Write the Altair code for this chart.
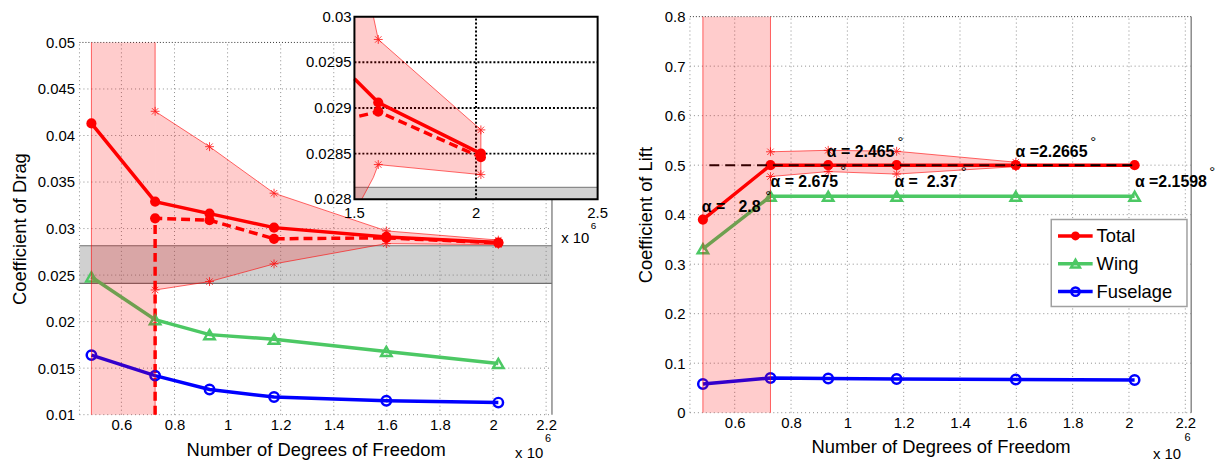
import altair as alt
import pandas as pd

FONT = "Liberation Sans"
RED = "#ff0000"
GREEN = "#4cc864"
BLUE = "#0000ff"
GRID = "#8c8c8c"
STAR = "M-1,0L1,0M0,-1L0,1M-0.72,-0.72L0.72,0.72M-0.72,0.72L0.72,-0.72"

# ---------------- shared x: number of degrees of freedom (x 10^6)
dof = [0.487, 0.727, 0.932, 1.175, 1.598, 2.020]
cut = [0.487, 0.727]          # shaded (unconverged) region

# ---------------- drag panel
drag_xlim = [0.442, 2.222]
drag_ylim = [0.01, 0.05]
drag_xticks = [0.6, 0.8, 1.0, 1.2, 1.4, 1.6, 1.8, 2.0, 2.2]
drag_yticks = [0.01, 0.015, 0.02, 0.025, 0.03, 0.035, 0.04, 0.045, 0.05]
drag_total = [0.0413, 0.0329, 0.0316, 0.0301, 0.0291, 0.0285]
drag_total_corr = [0.0311, 0.0309, 0.0289, 0.0290, 0.02846]   # dashed, at dof[1:]
drag_wing = [0.0248, 0.0202, 0.0186, 0.0181, 0.0168, 0.0155]
drag_fus = [0.0164, 0.0142, 0.0127, 0.0119, 0.0115, 0.0113]
drag_band_hi = [0.0426, 0.0388, 0.0338, 0.02975, 0.02876]   # at dof[1:]
drag_band_lo = [0.0234, 0.0243, 0.0262, 0.02838, 0.02827]
drag_gray = [0.0241, 0.02815]

# ---------------- inset (zoom of drag)
inset_xlim = [1.5, 2.5]
inset_ylim = [0.028, 0.030]
inset_xticks = [1.5, 2.0, 2.5]
inset_yticks = [0.028, 0.0285, 0.029, 0.0295, 0.030]
inset_total_x = [1.5, 1.598, 2.020]
inset_total_y = [0.02932, 0.02906, 0.02850]
inset_corr_x = [1.52, 1.598, 2.020]
inset_corr_y = [0.02891, 0.02896, 0.02846]
inset_band_x = [1.5, 1.53, 1.578, 1.598, 2.020]
inset_band_lo = [0.028, 0.028, 0.02824, 0.02838, 0.02827]
inset_band_hi = [0.030, 0.030, 0.030, 0.02975, 0.02876]
inset_gray_top = 0.02813

# ---------------- lift panel
lift_xlim = [0.441, 2.221]
lift_ylim = [0.0, 0.8]
lift_xticks = drag_xticks
lift_yticks = [0.0, 0.1, 0.2, 0.3, 0.4, 0.5, 0.6, 0.7, 0.8]
lift_total = [0.390, 0.500, 0.500, 0.500, 0.500, 0.500]
lift_wing = [0.331, 0.437, 0.437, 0.437, 0.437, 0.437]
lift_fus = [0.058, 0.070, 0.069, 0.068, 0.067, 0.066]
lift_band_x = [0.727, 0.932, 1.175, 1.598]
lift_band_hi = [0.527, 0.530, 0.528, 0.506]
lift_band_lo = [0.477, 0.487, 0.482, 0.497]
lift_target = 0.5
lift_target_x = [0.51, 2.02]
alpha_text = ["α =\u00a0\u00a0 2.8", "α = 2.675", "α = 2.465", "α =\u00a0 2.37", "α =2.2665", "α =2.1598"]
alpha_x = [0.483, 0.727, 0.927, 1.167, 1.597, 2.021]
alpha_y = [0.415, 0.465, 0.527, 0.465, 0.527, 0.465]
deg_x = [0.719, 0.985, 1.189, 1.413, 1.873, 2.296]
deg_y = [0.437, 0.489, 0.546, 0.487, 0.547, 0.487]

legend_names = ["Total", "Wing", "Fuselage"]
legend_y = [0.357, 0.301, 0.2446]
legend_box = [1.724, 2.206, 0.2145, 0.390]
legend_line = [1.748, 1.871]
legend_mark_x = 1.810
legend_text_x = 1.885

X_LABEL = "Number of Degrees of Freedom"

INSET_SCALES = []


def df(**cols):
    return pd.DataFrame(cols)


def _pos(cls, field, scale, axis):
    if any(scale is s for s in INSET_SCALES):
        return cls(f"{field}:Q", scale=scale, axis=None)
    if axis is not None:
        return cls(f"{field}:Q", scale=scale, axis=axis)
    return cls(f"{field}:Q", scale=scale)


def X(scale, axis=None, field="x"):
    return _pos(alt.X, field, scale, axis)


def Y(scale, axis=None, field="y"):
    return _pos(alt.Y, field, scale, axis)


def hrules(ys, x0, x1, XS, YS, color, width=1.0, dash=None, xaxis=None, yaxis=None):
    kw = dict(color=color, strokeWidth=width)
    if dash:
        kw["strokeDash"] = dash
    d = df(y=ys, x=[x0] * len(ys), x2=[x1] * len(ys))
    return alt.Chart(d).mark_rule(**kw).encode(x=X(XS, xaxis), x2="x2:Q", y=Y(YS, yaxis))


def vrules(xs, y0, y1, XS, YS, color, width=1.0, dash=None):
    kw = dict(color=color, strokeWidth=width)
    if dash:
        kw["strokeDash"] = dash
    d = df(x=xs, y=[y0] * len(xs), y2=[y1] * len(xs))
    return alt.Chart(d).mark_rule(**kw).encode(x=X(XS), y=Y(YS), y2="y2:Q")


def line(xs, ys, XS, YS, color, width=3.5, dash=None):
    kw = dict(color=color, strokeWidth=width)
    if dash:
        kw["strokeDash"] = dash
    d = df(x=xs, y=ys, i=list(range(len(xs))))
    return alt.Chart(d).mark_line(**kw).encode(x=X(XS), y=Y(YS), order="i:Q")


def pts(xs, ys, XS, YS, **mk):
    d = df(x=xs, y=ys)
    kw = dict(opacity=1)
    kw.update(mk)
    return alt.Chart(d).mark_point(**kw).encode(x=X(XS), y=Y(YS))


def rect(x0, x1, y0, y1, XS, YS, **mk):
    d = df(x=[x0], x2=[x1], y=[y0], y2=[y1])
    return alt.Chart(d).mark_rect(**mk).encode(x=X(XS), x2="x2:Q", y=Y(YS), y2="y2:Q")


def area(xs, lo, hi, XS, YS):
    d = df(x=xs, y=lo, y2=hi)
    return alt.Chart(d).mark_area(color=RED, opacity=0.2).encode(x=X(XS), y=Y(YS), y2="y2:Q")


def outline(segs, XS, YS):
    rows = []
    for s, seg in enumerate(segs):
        for i, (x, y) in enumerate(seg):
            rows.append({"x": x, "y": y, "s": s, "i": i})
    return alt.Chart(pd.DataFrame(rows)).mark_line(color=RED, strokeWidth=1, opacity=0.6).encode(
        x=X(XS), y=Y(YS), detail="s:N", order="i:Q")


def texts(xs, ys, labels, XS, YS, **mk):
    d = df(x=xs, y=ys, t=labels)
    base = dict(font=FONT, color="black", baseline="middle")
    base.update(mk)
    return alt.Chart(d).mark_text(**base).encode(x=X(XS), y=Y(YS), text="t:N")


def stars(xs, ys, XS, YS):
    return pts(xs, ys, XS, YS, shape=STAR, filled=False, size=80, strokeWidth=1, color=RED, opacity=0.75)


total_mk = dict(shape="circle", filled=True, size=105, color=RED)
wing_mk = dict(shape="triangle-up", filled=False, size=110, strokeWidth=2.5, color=GREEN)
fus_mk = dict(shape="circle", filled=False, size=90, strokeWidth=2.5, color=BLUE)

# =============== LEFT: drag ===============
W_D, H_D = 476, 401
XS_D = alt.Scale(domain=drag_xlim, nice=False, zero=False)
YS_D = alt.Scale(domain=drag_ylim, range=[401, 26], nice=False, zero=False)
AX_DX = alt.Axis(values=drag_xticks, format=".1~f", title=X_LABEL, grid=False, ticks=False,
                 domain=False, labelPadding=3, titlePadding=8)
AX_DY = alt.Axis(values=drag_yticks, format=".3~f", title="Coefficient of Drag", grid=False,
                 ticks=False, domain=False, labelPadding=5, titlePadding=8)

dash_x = [cut[1]] + dof[1:]
dash_y = [drag_ylim[0]] + drag_total_corr

drag_segA = [(cut[0], drag_ylim[0]), (cut[0], drag_ylim[1])]
drag_segB = ([(cut[1], drag_ylim[1])] + list(zip(dof[1:], drag_band_hi))
             + list(zip(dof[1:], drag_band_lo))[::-1] + [(cut[1], drag_ylim[0])])

main_layers = [
    hrules(drag_yticks[:-1], drag_xlim[0], drag_xlim[1], XS_D, YS_D, GRID, 1, [1, 3],
           xaxis=AX_DX, yaxis=AX_DY),
    vrules([drag_xlim[0]] + drag_xticks, drag_ylim[0], drag_ylim[1], XS_D, YS_D, GRID, 1, [1, 3]),
    hrules([drag_ylim[1]], drag_xlim[0], drag_xlim[1], XS_D, YS_D, "#333333", 1, [1, 2]),
    vrules([drag_xlim[1]], drag_ylim[0], drag_ylim[1], XS_D, YS_D, "#8a8a8a", 1.5),
    rect(drag_xlim[0], drag_xlim[1], drag_gray[0], drag_gray[1], XS_D, YS_D, color="#808080", opacity=0.37),
    hrules(drag_gray, drag_xlim[0], drag_xlim[1], XS_D, YS_D, "#707070", 1.2),
    line(dof, drag_fus, XS_D, YS_D, BLUE),
    line(dof, drag_wing, XS_D, YS_D, GREEN),
    line(dof, drag_total, XS_D, YS_D, RED),
    line(dash_x, dash_y, XS_D, YS_D, RED, dash=[9, 5]),
    pts(dof, drag_fus, XS_D, YS_D, **fus_mk),
    pts(dof, drag_wing, XS_D, YS_D, **wing_mk),
    pts(dof, drag_total, XS_D, YS_D, **total_mk),
    pts(dof[1:], drag_total_corr, XS_D, YS_D, **total_mk),
    rect(cut[0], cut[1], drag_ylim[0], drag_ylim[1], XS_D, YS_D, color=RED, opacity=0.2),
    area(dof[1:], drag_band_lo, drag_band_hi, XS_D, YS_D),
    outline([drag_segA, drag_segB], XS_D, YS_D),
    stars(dof[1:] + dof[1:], drag_band_hi + drag_band_lo, XS_D, YS_D),
    texts([2.136], [0.00584], ["x 10"], XS_D, YS_D, fontSize=15, align="center"),
    texts([2.207], [0.00735], ["6"], XS_D, YS_D, fontSize=11, align="center"),
]

# ---- inset
XS_I = alt.Scale(domain=inset_xlim, range=[277, 522], nice=False, zero=False)
YS_I = alt.Scale(domain=inset_ylim, range=[184, 0], nice=False, zero=False)
INSET_SCALES.extend([XS_I, YS_I])

inset_seg = (list(zip(inset_band_x[2:], inset_band_hi[2:]))
             + list(zip(inset_band_x[1:], inset_band_lo[1:]))[::-1])

inset_layers = [
    rect(inset_xlim[0], inset_xlim[1], inset_ylim[0], inset_ylim[1], XS_I, YS_I, color="white"),
    rect(inset_xlim[0], inset_xlim[1], inset_ylim[0], inset_gray_top, XS_I, YS_I, color="#d2d2d2"),
    hrules([inset_gray_top], inset_xlim[0], inset_xlim[1], XS_I, YS_I, "#8a8a8a", 1.2),
    hrules(inset_yticks[1:-1], inset_xlim[0], inset_xlim[1], XS_I, YS_I, "black", 2, [2, 2]),
    vrules(inset_xticks[1:-1], inset_ylim[0], inset_ylim[1], XS_I, YS_I, "black", 2, [2, 2]),
    line(inset_total_x, inset_total_y, XS_I, YS_I, RED),
    line(inset_corr_x, inset_corr_y, XS_I, YS_I, RED, dash=[9, 5]),
    pts(inset_total_x[1:], inset_total_y[1:], XS_I, YS_I, **total_mk),
    pts(inset_corr_x[1:], inset_corr_y[1:], XS_I, YS_I, **total_mk),
    area(inset_band_x, inset_band_lo, inset_band_hi, XS_I, YS_I),
    outline([inset_seg], XS_I, YS_I),
    stars(inset_band_x[3:] + inset_band_x[3:], inset_band_hi[3:] + inset_band_lo[3:], XS_I, YS_I),
    rect(inset_xlim[0], inset_xlim[1], inset_ylim[0], inset_ylim[1], XS_I, YS_I,
         fillOpacity=0, stroke="black", strokeWidth=2),
    texts(inset_xticks, [inset_ylim[0]] * 3, [f"{v:g}" for v in inset_xticks], XS_I, YS_I,
          fontSize=15, align="center", dy=14),
    texts([inset_xlim[0]] * 5, inset_yticks, [f"{v:g}" for v in inset_yticks], XS_I, YS_I,
          fontSize=15, align="right", dx=-3),
    texts([2.408], [0.027576], ["x 10"], XS_I, YS_I, fontSize=15, align="center"),
    texts([2.483], [0.02771], ["6"], XS_I, YS_I, fontSize=10, align="center"),
]

left = alt.layer(alt.layer(*main_layers), alt.layer(*inset_layers)).resolve_scale(
    x="independent", y="independent").properties(width=W_D, height=H_D)

# =============== RIGHT: lift ===============
W_L, H_L = 505, 399
XS_L = alt.Scale(domain=lift_xlim, nice=False, zero=False)
YS_L = alt.Scale(domain=lift_ylim, nice=False, zero=False)
AX_LX = alt.Axis(values=lift_xticks, format=".1~f", title=X_LABEL, grid=False, ticks=False,
                 domain=False, labelPadding=3, titlePadding=7)
AX_LY = alt.Axis(values=lift_yticks, format=".1~f", title="Coefficient of Lift", grid=False,
                 ticks=False, domain=False, labelPadding=5, titlePadding=9)

lift_segA = [(cut[0], lift_ylim[0]), (cut[0], lift_ylim[1])]
lift_segB = ([(cut[1], lift_ylim[1])] + list(zip(lift_band_x, lift_band_hi))
             + list(zip(lift_band_x, lift_band_lo))[::-1] + [(cut[1], lift_ylim[0])])

leg_colors = [RED, GREEN, BLUE]
leg_df = df(x=[legend_line[0]] * 3, x2=[legend_line[1]] * 3, y=legend_y, c=leg_colors)

right_layers = [
    hrules(lift_yticks[:-1], lift_xlim[0], lift_xlim[1], XS_L, YS_L, GRID, 1, [1, 3],
           xaxis=AX_LX, yaxis=AX_LY),
    vrules([lift_xlim[0]] + lift_xticks, lift_ylim[0], lift_ylim[1], XS_L, YS_L, GRID, 1, [1, 3]),
    hrules([lift_ylim[1]], lift_xlim[0], lift_xlim[1], XS_L, YS_L, "#333333", 1, [1, 2]),
    vrules([lift_xlim[1]], lift_ylim[0], lift_ylim[1], XS_L, YS_L, "#8a8a8a", 1.5),
    line(dof, lift_fus, XS_L, YS_L, BLUE),
    line(dof, lift_wing, XS_L, YS_L, GREEN),
    line(dof, lift_total, XS_L, YS_L, RED),
    pts(dof, lift_fus, XS_L, YS_L, **fus_mk),
    pts(dof, lift_wing, XS_L, YS_L, **wing_mk),
    pts(dof, lift_total, XS_L, YS_L, **total_mk),
    line(lift_target_x, [lift_target] * 2, XS_L, YS_L, "black", width=2, dash=[10, 6]),
    rect(cut[0], cut[1], lift_ylim[0], lift_ylim[1], XS_L, YS_L, color=RED, opacity=0.2),
    area(lift_band_x, lift_band_lo, lift_band_hi, XS_L, YS_L),
    outline([lift_segA, lift_segB], XS_L, YS_L),
    stars(lift_band_x + lift_band_x, lift_band_hi + lift_band_lo, XS_L, YS_L),
    texts(alpha_x, alpha_y, alpha_text, XS_L, YS_L, fontSize=16, fontWeight="bold", align="left"),
    texts(deg_x, deg_y, ["°"] * len(deg_x), XS_L, YS_L, fontSize=15, align="center"),
    rect(legend_box[0], legend_box[1], legend_box[2], legend_box[3], XS_L, YS_L,
         color="white", stroke="#a0a0a0", strokeWidth=1.5),
    alt.Chart(leg_df).mark_rule(strokeWidth=3.5).encode(
        x=X(XS_L), x2="x2:Q", y=Y(YS_L), color=alt.Color("c:N", scale=None)),
    pts([legend_mark_x], [legend_y[0]], XS_L, YS_L, shape="circle", filled=True, size=80, color=RED),
    pts([legend_mark_x], [legend_y[1]], XS_L, YS_L, shape="triangle-up", filled=False, size=80,
        strokeWidth=2.5, color=GREEN),
    pts([legend_mark_x], [legend_y[2]], XS_L, YS_L, shape="circle", filled=False, size=70,
        strokeWidth=2.5, color=BLUE),
    texts([legend_text_x] * 3, legend_y, legend_names, XS_L, YS_L, fontSize=18.5, align="left"),
    texts([2.135], [-0.0828], ["x 10"], XS_L, YS_L, fontSize=15, align="center"),
    texts([2.208], [-0.0520], ["6"], XS_L, YS_L, fontSize=11, align="center"),
]

right = alt.layer(*right_layers).properties(width=W_L, height=H_L)

chart = alt.hconcat(left, right, spacing=139, bounds="flush").properties(
    padding={"left": 2, "top": 0, "right": 4, "bottom": 2},
    background="white",
).configure_view(stroke=None).configure_axis(
    labelFont=FONT, labelFontSize=15, labelColor="black",
    titleFont=FONT, titleFontSize=18.5, titleFontWeight="normal", titleColor="black",
)

chart.save("out.html", embed_options={"renderer": "svg", "actions": False})
